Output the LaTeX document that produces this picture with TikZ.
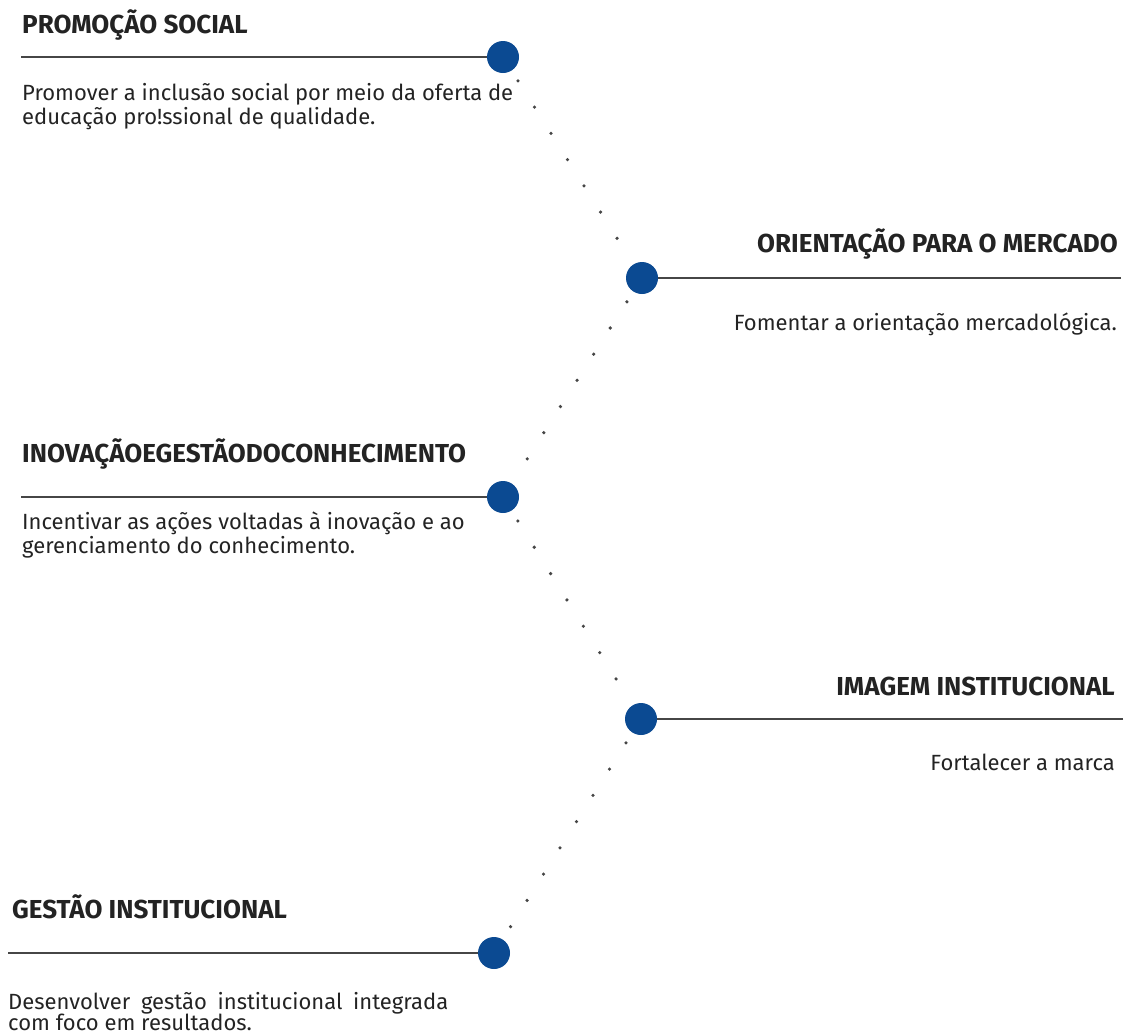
\documentclass[tikz,border=0pt]{standalone}
\usepackage{fontspec}
\setmainfont{Fira Sans}
\definecolor{azul}{RGB}{11,74,146}
\definecolor{traco}{RGB}{70,70,70}
\definecolor{texto}{RGB}{35,35,35}

\begin{document}
\begin{tikzpicture}[x=1pt,y=-1pt,
    marco/.style={circle,fill=azul,minimum size=32pt,inner sep=0pt},
    trilho/.style={draw=traco,line width=1.8pt},
    pontos/.style={draw=traco,line width=3.6pt,line cap=round,dash pattern=on 0pt off 31pt,dash phase=19pt},
    titulo/.style={inner sep=0pt,font=\fontsize{26}{30}\selectfont\bfseries,text=texto},
    corpo/.style={inner sep=0pt,font=\fontsize{22}{24}\selectfont,text=texto,align=left}]
    \useasboundingbox (0,0) rectangle (1127,1034);
    \node[marco] (m1) at (503,57) {};
    \node[marco] (m2) at (642,278) {};
    \node[marco] (m3) at (503,497) {};
    \node[marco] (m4) at (641,719) {};
    \node[marco] (m5) at (494,953) {};
    \coordinate (a1) at (21,57);
    \coordinate (a2) at (1121,278);
    \coordinate (a3) at (21,497);
    \coordinate (a4) at (1123,719);
    \coordinate (a5) at (8,953);
    \foreach \i in {1,...,5}
      \draw[trilho] (a\i) -- (m\i);
    \foreach \a/\b in {m1/m2,m2/m3,m3/m4,m4/m5}
      \draw[pontos] (\a) -- (\b);
    \node[titulo,anchor=base west] (t1) at (22,33) {PROMOÇÃO SOCIAL};
    \node[corpo,anchor=base west] (c1) at (22,124) {Promover a inclusão social por meio da oferta de\\educação pro!ssional de qualidade.};
    \node[titulo,anchor=base east] (t2) at (1118,252) {ORIENTAÇÃO PARA O MERCADO};
    \node[corpo,anchor=base east] (c2) at (1117,330) {Fomentar a orientação mercadológica.};
    \node[titulo,anchor=base west] (t3) at (22,462) {INOVAÇÃOEGESTÃODOCONHECIMENTO};
    \node[corpo,anchor=base west] (c3) at (22,553) {Incentivar as ações voltadas à inovação e ao\\gerenciamento do conhecimento.};
    \node[titulo,anchor=base east] (t4) at (1115,695) {IMAGEM INSTITUCIONAL};
    \node[corpo,anchor=base east] (c4) at (1115,770) {Fortalecer a marca};
    \node[titulo,anchor=base west] (t5) at (12,918) {GESTÃO INSTITUCIONAL};
    \node[corpo,anchor=base west] (c5) at (8,1030) {\makebox[440pt][s]{Desenvolver gestão institucional integrada}\\[-3pt]com foco em resultados.};
\end{tikzpicture}
\end{document}
